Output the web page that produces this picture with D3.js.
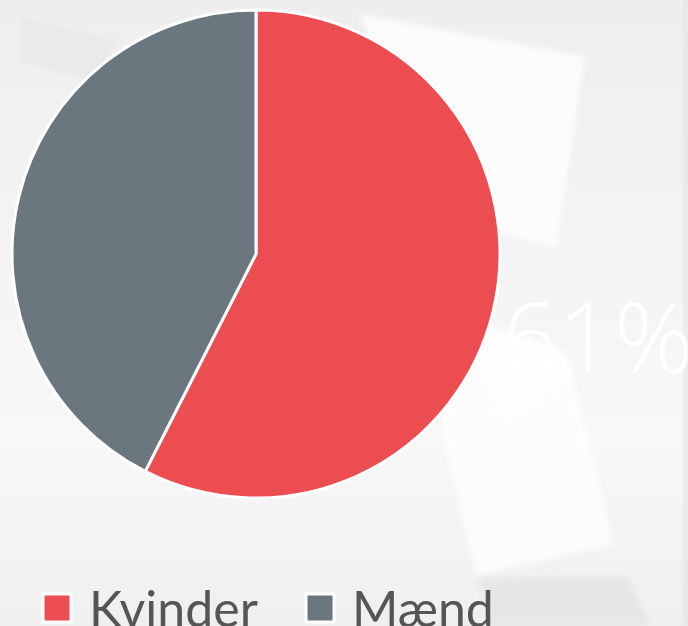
<!DOCTYPE html>
<html>
<head>
<meta charset="utf-8">
<script src="https://cdnjs.cloudflare.com/ajax/libs/d3/7.8.5/d3.min.js"></script>
<style>
    html, body { margin: 0; padding: 0; overflow: hidden; }
    body { width: 688px; height: 626px; }
</style>
</head>
<body>
<div id="chart"></div>
<script>
// data
var categories = ["Kvinder", "Mænd"];
var values = [57.5, 42.5];
var colors = ["#ec4d50", "#6a777e"];
var bigLabel = "61%";

var width = 688, height = 626;
var cx = 256, cy = 254, radius = 244;

var svg = d3.select("#chart")
    .append("svg")
    .attr("width", width)
    .attr("height", height);

// background
var defs = svg.append("defs");
var bg = defs.append("linearGradient")
    .attr("id", "bgGrad")
    .attr("x1", "0").attr("y1", "0")
    .attr("x2", "0").attr("y2", "1");
bg.append("stop").attr("offset", "0").attr("stop-color", "#eeeeee");
bg.append("stop").attr("offset", "0.7").attr("stop-color", "#f8f8f8");
bg.append("stop").attr("offset", "1").attr("stop-color", "#efeff0");

defs.append("filter")
    .attr("id", "soft")
    .append("feGaussianBlur")
    .attr("stdDeviation", 2.5);

svg.append("rect")
    .attr("width", width)
    .attr("height", height)
    .attr("fill", "url(#bgGrad)");

// paper sheets in the backdrop
var sheets = [
    {pts: [[22, 18], [120, 42], [90, 80], [20, 62]], fill: "#e7e7e7", op: 0.6},
    {pts: [[360, 14], [585, 56], [556, 248], [440, 215]], fill: "#ffffff", op: 0.75},
    {pts: [[480, 320], [568, 356], [614, 545], [476, 576], [440, 420]], fill: "#ffffff", op: 0.7},
    {pts: [[478, 578], [628, 576], [650, 626], [490, 626]], fill: "#e4e4e5", op: 0.8},
    {pts: [[683, 0], [690, 0], [690, 626], [683, 626]], fill: "#e2e2e2", op: 0.7}
];
svg.selectAll("polygon.sheet")
    .data(sheets)
    .enter()
    .append("polygon")
    .attr("class", "sheet")
    .attr("points", function (d) { return d.pts.map(function (p) { return p.join(","); }).join(" "); })
    .attr("fill", function (d) { return d.fill; })
    .attr("opacity", function (d) { return d.op; })
    .attr("filter", "url(#soft)");

// big percentage behind the pie
svg.append("text")
    .attr("x", 502)
    .attr("y", 373)
    .attr("fill", "#ffffff")
    .style("font-family", "'Open Sans', sans-serif")
    .style("font-weight", 300)
    .style("font-size", "98px")
    .text(bigLabel);

// sheet covering part of the label
svg.append("polygon")
    .attr("points", "470,340 520,336 562,350 575,380 500,420")
    .attr("fill", "#ffffff")
    .attr("opacity", 0.75)
    .attr("filter", "url(#soft)");

// pie
var pie = d3.pie().sort(null).value(function (d) { return d; });
var arc = d3.arc().innerRadius(0).outerRadius(radius);

var g = svg.append("g")
    .attr("transform", "translate(" + cx + "," + cy + ")");

g.selectAll("path")
    .data(pie(values))
    .enter()
    .append("path")
    .attr("d", arc)
    .attr("fill", function (d, i) { return colors[i]; })
    .attr("stroke", "#ffffff")
    .attr("stroke-width", 3)
    .attr("stroke-linejoin", "round");

// legend
var legendX = d3.scalePoint().domain(categories).range([43, 306]);

var legend = svg.selectAll("g.legend")
    .data(categories)
    .enter()
    .append("g")
    .attr("class", "legend")
    .attr("transform", function (d) { return "translate(" + legendX(d) + ",594)"; });

legend.append("rect")
    .attr("width", 28)
    .attr("height", 28)
    .attr("fill", function (d, i) { return colors[i]; })
    .attr("stroke", "#ffffff")
    .attr("stroke-width", 3);

legend.append("text")
    .attr("x", 46)
    .attr("y", 33)
    .attr("fill", "#555555")
    .style("font-family", "Lato, sans-serif")
    .style("font-size", "50px")
    .text(function (d) { return d; });
</script>
</body>
</html>
